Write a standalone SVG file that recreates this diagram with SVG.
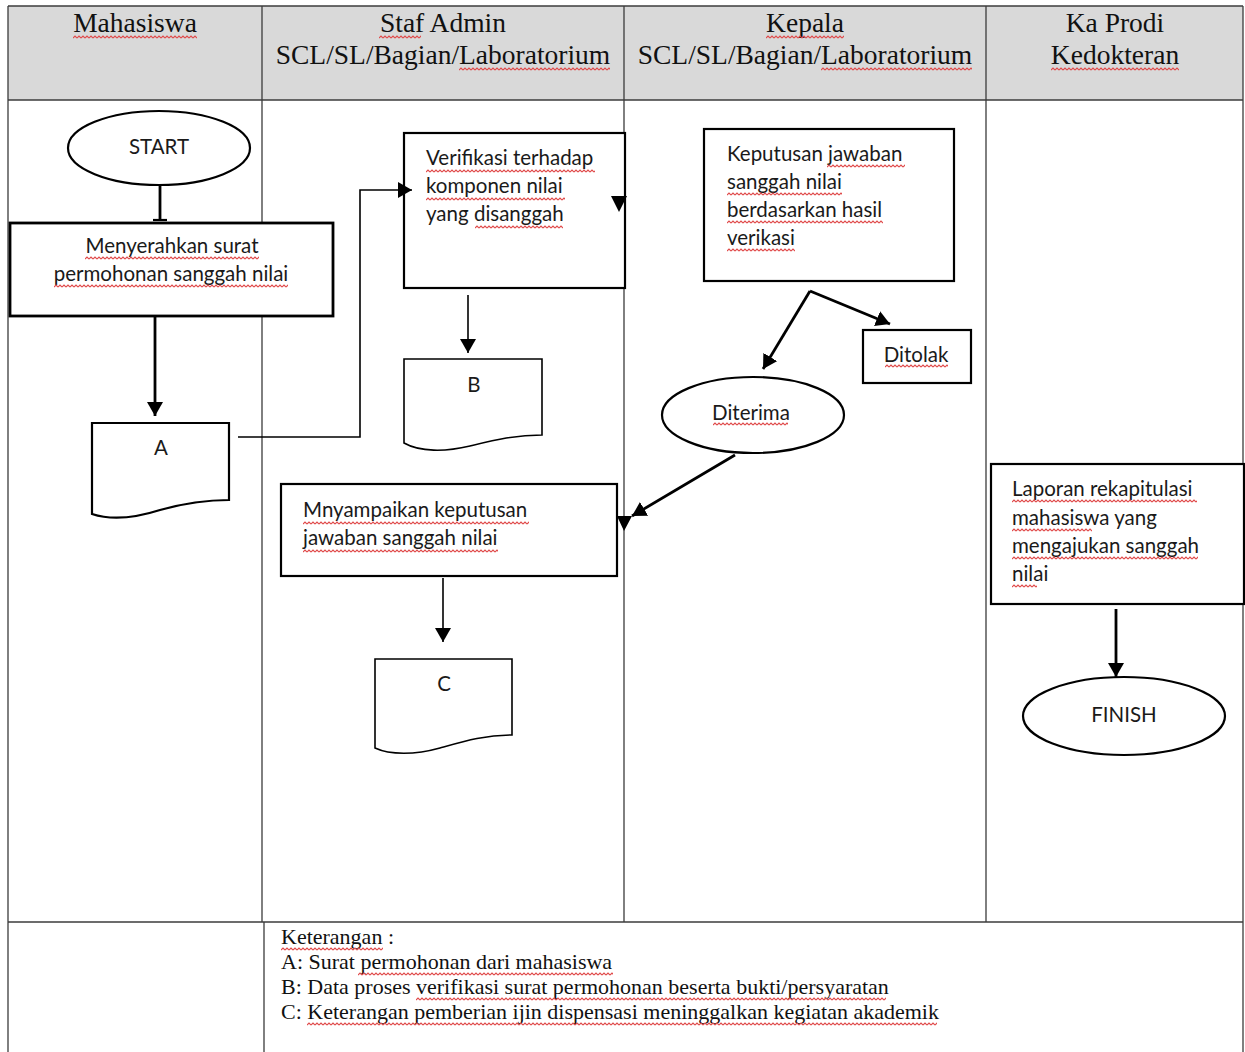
<svg xmlns="http://www.w3.org/2000/svg" width="1245" height="1052" viewBox="0 0 1245 1052">
  <style>
    .grid { stroke:#3c3c3c; stroke-width:1.3; fill:none }
    .hdr { font-family:"Liberation Serif","Times New Roman",serif; font-size:27.5px; text-anchor:middle; fill:#111 }
    .foot { font-family:"Liberation Serif","Times New Roman",serif; font-size:22px; fill:#111 }
    .lbl { font-family:Lato,"Liberation Sans",sans-serif; font-size:20.5px; fill:#1a1a1a }
    .ctr { text-anchor:middle }
    .shape { fill:#fff; stroke:#000 }
    .w1 { stroke-width:1.6 }
    .w2 { stroke-width:2.2 }
    .w3 { stroke-width:2.8 }
    .ln { stroke:#000; fill:none }
    .tip { fill:#000 }
    .sq { fill:url(#squiggle) }
  </style>
  <defs>
    <!-- red wavy spell-check underline tile -->
    <pattern id="squiggle" width="4" height="4" patternUnits="userSpaceOnUse">
      <path d="M0,3 L2,1 L4,3" fill="none" stroke="#e04848" stroke-width="1.1"/>
    </pattern>
    <marker id="arrow" viewBox="0 0 14 16" refX="14" refY="8" markerWidth="14" markerHeight="16" markerUnits="userSpaceOnUse" orient="auto">
      <path d="M0,0 L14,8 L0,16 Z" fill="#000"/>
    </marker>
  </defs>

  <!-- swimlane table -->
  <g id="table">
    <rect x="8" y="6" width="1235" height="94" fill="#d9d9d9"/>
    <path class="grid" d="M8,6 H1243 M8,6 V1052 M1243,6 V1052 M8,100 H1243 M262,6 V922 M624,6 V922 M986,6 V922 M8,922 H1243 M264,922 V1052"/>
    <text class="hdr" x="135" y="32">Mahasiswa</text>
    <text class="hdr" x="443" y="32">Staf Admin</text>
    <text class="hdr" x="443" y="64">SCL/SL/Bagian/Laboratorium</text>
    <text class="hdr" x="805" y="32">Kepala</text>
    <text class="hdr" x="805" y="64">SCL/SL/Bagian/Laboratorium</text>
    <text class="hdr" x="1115" y="32">Ka Prodi</text>
    <text class="hdr" x="1115" y="64">Kedokteran</text>
    <rect class="sq" transform="translate(73,35)" width="124" height="4"/>
    <rect class="sq" transform="translate(379,35)" width="42" height="4"/>
    <rect class="sq" transform="translate(459,67)" width="151" height="4"/>
    <rect class="sq" transform="translate(766,35)" width="78" height="4"/>
    <rect class="sq" transform="translate(821,67)" width="151" height="4"/>
    <rect class="sq" transform="translate(1051,67)" width="128" height="4"/>
  </g>

  <g id="start">
    <ellipse class="shape w2" cx="159" cy="148" rx="91" ry="37"/>
    <text class="lbl ctr" x="159" y="154">START</text>
  </g>

  <g id="menyerahkan">
    <rect class="shape w3" x="10" y="223" width="323" height="93"/>
    <text class="lbl ctr" x="172" y="253">Menyerahkan surat</text>
    <text class="lbl ctr" x="171" y="281">permohonan sanggah nilai</text>
    <rect class="sq" transform="translate(85,256)" width="174" height="4"/>
    <rect class="sq" transform="translate(54,284)" width="234" height="4"/>
  </g>

  <g id="doc-a">
    <path class="shape w2" d="M92,423 H229 V500 C205,500 185,503 160,510 C135,518 110,520 92,514 Z"/>
    <text class="lbl ctr" x="161" y="455">A</text>
  </g>

  <g id="verifikasi">
    <rect class="shape w2" x="404" y="133" width="221" height="155"/>
    <text class="lbl" x="426" y="165">Verifikasi terhadap</text>
    <text class="lbl" x="426" y="193">komponen nilai</text>
    <text class="lbl" x="426" y="221">yang disanggah</text>
    <rect class="sq" transform="translate(426,169)" width="169" height="4"/>
    <rect class="sq" transform="translate(426,197)" width="139" height="4"/>
    <rect class="sq" transform="translate(475,225)" width="88" height="4"/>
  </g>

  <g id="doc-b">
    <path class="shape w1" d="M404,359 H542 V435 C515,435 495,440 470,446 C445,452 420,452 404,443 Z"/>
    <text class="lbl ctr" x="474" y="392">B</text>
  </g>

  <g id="keputusan">
    <rect class="shape w2" x="704" y="129" width="250" height="152"/>
    <text class="lbl" x="727" y="161">Keputusan jawaban</text>
    <text class="lbl" x="727" y="189">sanggah nilai</text>
    <text class="lbl" x="727" y="217">berdasarkan hasil</text>
    <text class="lbl" x="727" y="245">verikasi</text>
    <rect class="sq" transform="translate(827,164)" width="78" height="4"/>
    <rect class="sq" transform="translate(727,192)" width="115" height="4"/>
    <rect class="sq" transform="translate(727,220)" width="156" height="4"/>
    <rect class="sq" transform="translate(727,248)" width="68" height="4"/>
  </g>

  <g id="ditolak">
    <rect class="shape w2" x="863" y="330" width="108" height="53"/>
    <text class="lbl ctr" x="916" y="362">Ditolak</text>
    <rect class="sq" transform="translate(885,364)" width="63" height="4"/>
  </g>

  <g id="diterima">
    <ellipse class="shape w2" cx="753" cy="415" rx="91" ry="38"/>
    <text class="lbl ctr" x="751" y="420">Diterima</text>
    <rect class="sq" transform="translate(713,422)" width="75" height="4"/>
  </g>

  <g id="menyampaikan">
    <rect class="shape w2" x="281" y="484" width="336" height="92"/>
    <text class="lbl" x="303" y="517">Mnyampaikan keputusan</text>
    <text class="lbl" x="303" y="545">jawaban sanggah nilai</text>
    <rect class="sq" transform="translate(303,521)" width="226" height="4"/>
    <rect class="sq" transform="translate(303,549)" width="195" height="4"/>
  </g>

  <g id="doc-c">
    <path class="shape w1" d="M375,659 H512 V735 C485,735 465,741 440,748 C415,755 390,755 375,748 Z"/>
    <text class="lbl ctr" x="444" y="691">C</text>
  </g>

  <g id="laporan">
    <rect class="shape w2" x="991" y="464" width="253" height="140"/>
    <text class="lbl" x="1012" y="496">Laporan rekapitulasi</text>
    <text class="lbl" x="1012" y="525">mahasiswa yang</text>
    <text class="lbl" x="1012" y="553">mengajukan sanggah</text>
    <text class="lbl" x="1012" y="581">nilai</text>
    <rect class="sq" transform="translate(1012,499)" width="185" height="4"/>
    <rect class="sq" transform="translate(1012,528)" width="80" height="4"/>
    <rect class="sq" transform="translate(1012,556)" width="186" height="4"/>
    <rect class="sq" transform="translate(1012,584)" width="25" height="4"/>
  </g>

  <g id="finish">
    <ellipse class="shape w2" cx="1124" cy="716" rx="101" ry="39"/>
    <text class="lbl ctr" x="1124" y="722">FINISH</text>
  </g>

  <!-- connectors, drawn above the shapes so arrow tips stay visible -->
  <g id="connectors">
    <path class="ln w3" d="M160,184 V221"/>
    <path class="ln w2" d="M153,220 H167"/>
    <path class="ln w3" d="M155,317 V416" marker-end="url(#arrow)"/>
    <path class="ln w1" d="M238,437 H360 V190 H412" marker-end="url(#arrow)"/>
    <path class="ln w1" d="M468,295 V353" marker-end="url(#arrow)"/>
    <path class="ln w3" d="M810,291 L763,369" marker-end="url(#arrow)"/>
    <path class="ln w3" d="M810,291 L890,324" marker-end="url(#arrow)"/>
    <path class="ln w3" d="M735,455 L632,516" marker-end="url(#arrow)"/>
    <path class="ln w1" d="M443,578 V642" marker-end="url(#arrow)"/>
    <path class="ln w3" d="M1116,609 V677" marker-end="url(#arrow)"/>
    <path class="tip" d="M611,196 L627,196 L619,212 Z"/>
    <path class="tip" d="M617,516 L632,516 L624,531 Z"/>
  </g>

  <!-- legend -->
  <g id="keterangan">
    <text class="foot" x="281" y="944">Keterangan :</text>
    <text class="foot" x="281" y="969">A: Surat permohonan dari mahasiswa</text>
    <text class="foot" x="281" y="994">B: Data proses verifikasi surat permohonan beserta bukti/persyaratan</text>
    <text class="foot" x="281" y="1019">C: Keterangan pemberian ijin dispensasi meninggalkan kegiatan akademik</text>
    <rect class="sq" transform="translate(281,947)" width="102" height="4"/>
    <rect class="sq" transform="translate(358,972)" width="255" height="4"/>
    <rect class="sq" transform="translate(416,997)" width="470" height="4"/>
    <rect class="sq" transform="translate(307,1022)" width="630" height="4"/>
  </g>
</svg>
